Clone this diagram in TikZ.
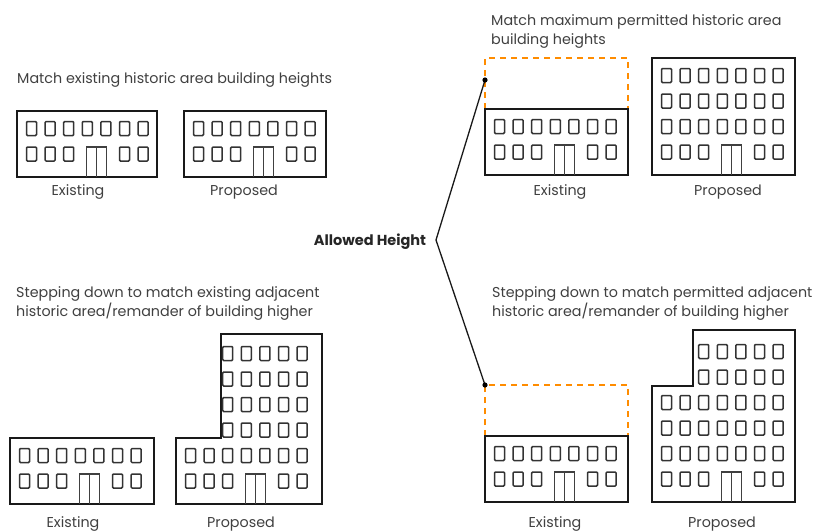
\documentclass[tikz,border=0pt]{standalone}
\usepackage{fontspec}
\setmainfont{Poppins}
\begin{document}
\begin{tikzpicture}[x=1pt,y=-1pt,
  txt/.style={text=black!75,font=\fontsize{14.3}{19}\selectfont,inner sep=0pt,align=left},
  lbl/.style={text=black!75,font=\fontsize{14.3}{15}\selectfont,inner sep=0pt},
  wall/.style={draw=black!90,line width=2.4pt,line join=miter},
  win/.style={draw=black!80,line width=1.5pt,rounded corners=1pt},
  door/.style={draw=black!75,line width=1.1pt},
  ghost/.style={draw=orange!90!yellow,line width=2.4pt,dash pattern=on 6pt off 5pt},
  pointer/.style={draw=black!90,line width=1.3pt}]
\path[use as bounding box] (0,0) rectangle (815,531);

% #1 left x, #2 ground y, #3..#4 storeys above ground, #5 first column
\newcommand{\upperwins}[5]{%
  \foreach \r in {#3,...,#4}{\foreach \c in {#5,...,7}{%
    \draw[win] ({#1+9.5+(\c-1)*18.6},{#2-30-\r*25.5}) rectangle ++(10,14);}}}
% ground storey: windows and a double door
\newcommand{\groundwins}[2]{%
  \foreach \c in {1,2,3,6,7}{%
    \draw[win] ({#1+9.5+(\c-1)*18.6},{#2-30}) rectangle ++(10,14);}
  \draw[door] ({#1+9.5+3.5*18.6-5},{#2}) -- ++(0,-30) -- ++(20,0) -- ++(0,30);
  \draw[door] ({#1+9.5+3.5*18.6+5},{#2}) -- ++(0,-30);}

% ---- upper left: same height ----
\node[txt,anchor=base west] (t1) at (17,83) {Match existing historic area building heights};
\draw[wall] (17,111) rectangle (157,177);
\upperwins{17}{177}{1}{1}{1}\groundwins{17}{177}
\draw[wall] (184,111) rectangle (326,177);
\upperwins{184}{177}{1}{1}{1}\groundwins{184}{177}
\node[lbl,anchor=base] (e1) at (78,195) {Existing};
\node[lbl,anchor=base] (p1) at (244,195) {Proposed};

% ---- upper right: permitted height ----
\node[txt,anchor=base west] (t2) at (491,44) {Match maximum permitted historic area\\building heights};
\draw[ghost] (485,109) -- (485,58) -- (628,58) -- (628,109);
\draw[wall] (485,109) rectangle (628,175);
\upperwins{485}{175}{1}{1}{1}\groundwins{485}{175}
\draw[wall] (652,58) rectangle (795,175);
\upperwins{652}{175}{1}{3}{1}\groundwins{652}{175}
\node[lbl,anchor=base] (e2) at (560,195) {Existing};
\node[lbl,anchor=base] (p2) at (728,195) {Proposed};

% ---- lower left: stepping down to existing ----
\node[txt,anchor=base west] (t3) at (16,316) {Stepping down to match existing adjacent\\historic area/remander of building higher};
\draw[wall] (10,438) rectangle (154,504);
\upperwins{10}{504}{1}{1}{1}\groundwins{10}{504}
\draw[wall] (176,504) -- (176,438) -- (221,438) -- (221,334) -- (322,334) -- (322,504) -- cycle;
\upperwins{176}{504}{1}{1}{1}\upperwins{176}{504}{2}{5}{3}\groundwins{176}{504}
\node[lbl,anchor=base] (e3) at (73,527) {Existing};
\node[lbl,anchor=base] (p3) at (241,527) {Proposed};

% ---- lower right: stepping down to permitted ----
\node[txt,anchor=base west] (t4) at (492,316) {Stepping down to match permitted adjacent\\historic area/remander of building higher};
\draw[ghost] (485,436) -- (485,385) -- (628,385) -- (628,436);
\draw[wall] (485,436) rectangle (628,502);
\upperwins{485}{502}{1}{1}{1}\groundwins{485}{502}
\draw[wall] (652,502) -- (652,386) -- (693,386) -- (693,330) -- (795,330) -- (795,502) -- cycle;
\upperwins{652}{502}{1}{3}{1}\upperwins{652}{502}{4}{5}{3}\groundwins{652}{502}
\node[lbl,anchor=base] (e4) at (555,527) {Existing};
\node[lbl,anchor=base] (p4) at (722,527) {Proposed};

% ---- allowed height pointers ----
\node[lbl,font=\fontsize{14.5}{15}\selectfont\bfseries,text=black!85,anchor=base] (ah) at (370,245) {Allowed Height};
\coordinate (vx) at (436,240);
\coordinate (hu) at (485,80);
\coordinate (hd) at (485,385);
\draw[pointer] (hu) -- (vx) -- (hd);
\fill[black] (hu) circle (2.6);
\fill[black] (hd) circle (2.6);
\end{tikzpicture}
\end{document}
